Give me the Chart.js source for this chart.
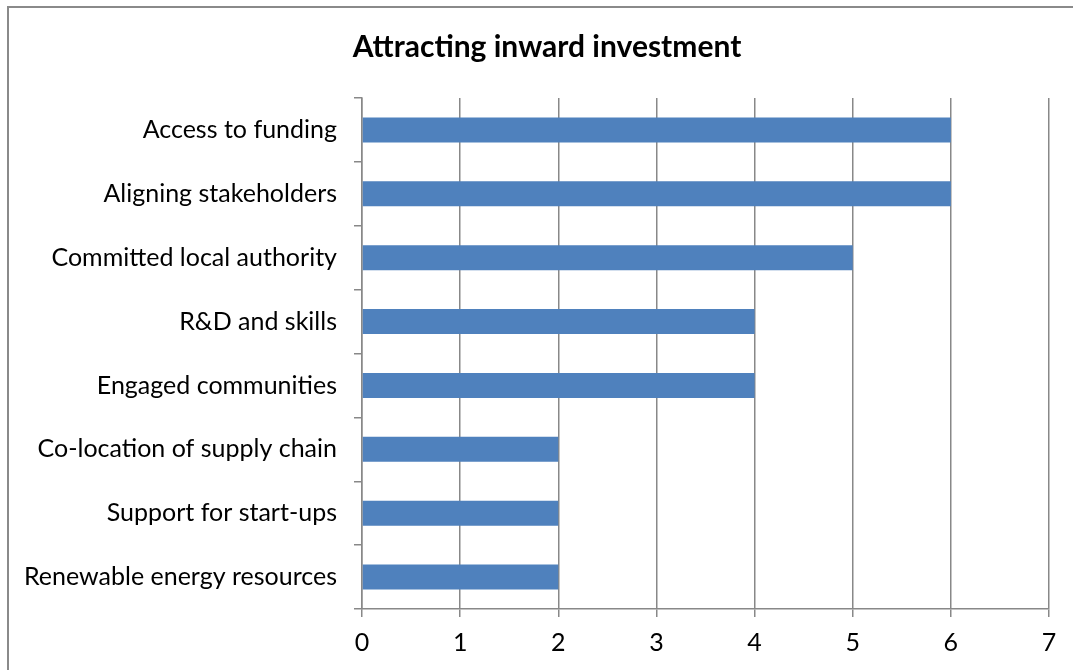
<!DOCTYPE html>
<html>
<head>
<meta charset="utf-8">
<script src="https://cdn.jsdelivr.net/npm/chart.js@4"></script>
<style>
  html, body { margin: 0; padding: 0; background: #fff; overflow: hidden; }
  #frame {
    position: absolute; left: 7px; top: 6px; width: 2000px; height: 2000px;
    border-left: 2px solid #8a8a8a; border-top: 2px solid #8a8a8a;
  }
  #wrap { position: absolute; left: 0; top: 0; width: 1073px; height: 670px; }
</style>
</head>
<body>
<div id="frame"></div>
<div id="wrap"><canvas id="invest"></canvas></div>
<script>
const labels = ['Access to funding', 'Aligning stakeholders', 'Committed local authority', 'R&D and skills',
  'Engaged communities', 'Co-location of supply chain', 'Support for start-ups', 'Renewable energy resources'];
const counts = [6, 6, 5, 4, 4, 2, 2, 2];
const xTicks = [0, 1, 2, 3, 4, 5, 6, 7];
const chartTitle = 'Attracting inward investment';

const gridColor = '#888888';
const ctx = document.getElementById('invest');

// title is centred over the whole frame, not over the plot
const frameTitle = {
  id: 'frameTitle',
  afterDraw(chart) {
    const c = chart.ctx;
    c.save();
    c.font = 'bold 30px Lato';
    c.fillStyle = '#000';
    c.textAlign = 'center';
    c.textBaseline = 'middle';
    c.fillText(chartTitle, 547, 47);
    c.restore();
  }
};

new Chart(ctx, {
  type: 'bar',
  data: {
    labels: labels,
    datasets: [{
      label: 'Count',
      data: counts,
      backgroundColor: '#4f81bd',
      borderWidth: 0,
      barPercentage: 0.39,
      categoryPercentage: 1
    }]
  },
  plugins: [frameTitle],
  options: {
    indexAxis: 'y',
    responsive: true,
    maintainAspectRatio: false,
    animation: false,
    layout: { padding: { left: 0, right: 24, top: 98, bottom: 0 } },
    plugins: {
      legend: { display: false },
      tooltip: { enabled: false },
      title: { display: false }
    },
    scales: {
      x: {
        min: 0,
        max: 7,
        afterBuildTicks: (scale) => { scale.ticks = xTicks.map(v => ({ value: v })); },
        afterFit: (scale) => { scale.height = 61; },
        grid: { color: gridColor, lineWidth: 1.5, tickLength: 8, drawTicks: true },
        border: { color: gridColor, width: 1.5 },
        ticks: { color: '#000', padding: 11, font: { family: 'Lato', size: 25 } }
      },
      y: {
        afterFit: (scale) => { scale.width = 362; },
        grid: { offset: true, drawOnChartArea: false, color: gridColor, lineWidth: 1.5, tickLength: 8 },
        border: { color: gridColor, width: 1.5 },
        ticks: { color: '#000', padding: 17, font: { family: 'Lato', size: 25 } }
      }
    }
  }
});
</script>
</body>
</html>
